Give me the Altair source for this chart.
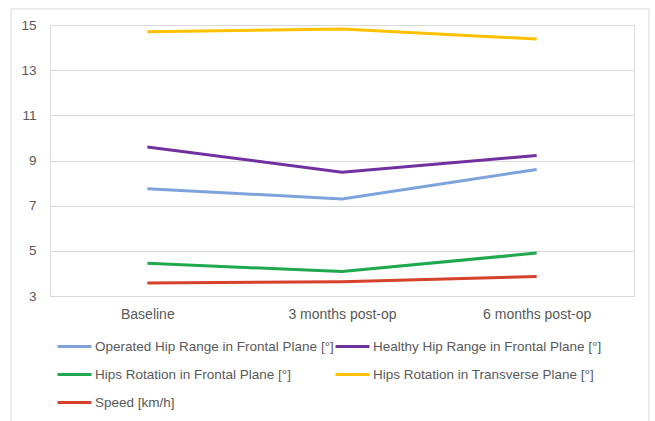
import altair as alt
import pandas as pd

# Gait parameters at three follow-up points
timepoints = ["Baseline", "3 months post-op", "6 months post-op"]
series_names = [
    "Operated Hip Range in Frontal Plane [°]",
    "Healthy Hip Range in Frontal Plane [°]",
    "Hips Rotation in Frontal Plane [°]",
    "Hips Rotation in Transverse Plane [°]",
    "Speed [km/h]",
]
operated_hip = [7.75, 7.3, 8.6]
healthy_hip = [9.6, 8.48, 9.22]
rotation_frontal = [4.45, 4.08, 4.9]
rotation_transverse = [14.7, 14.82, 14.38]
speed = [3.58, 3.63, 3.86]
colors = ["#7DA3DC", "#7030A0", "#1FA84D", "#FFC000", "#D5412A"]

rows = []
for name, vals in zip(series_names, [operated_hip, healthy_hip, rotation_frontal,
                                     rotation_transverse, speed]):
    for t, v in zip(timepoints, vals):
        rows.append({"timepoint": t, "series": name, "value": v})
df = pd.DataFrame(rows)

W, H = 584, 271
FONT = "Liberation Sans"
TEXT = "#595959"

lines = alt.Chart(df).mark_line(strokeWidth=3).encode(
    x=alt.X("timepoint:N", sort=timepoints, title=None,
            scale=alt.Scale(type="point", padding=0.5),
            axis=alt.Axis(labelAngle=0, domain=True, domainColor="#d9d9d9",
                          ticks=False, labelPadding=11, labelFontSize=14,
                          labelColor=TEXT, labelFont=FONT)),
    y=alt.Y("value:Q", title=None,
            scale=alt.Scale(domain=[3, 15], nice=False, zero=False),
            axis=alt.Axis(values=[3, 5, 7, 9, 11, 13, 15], domain=False, ticks=False,
                          gridColor="#d9d9d9", labelPadding=14, labelFontSize=13.5,
                          labelColor=TEXT, labelFont=FONT)),
    color=alt.Color("series:N", sort=series_names,
                    scale=alt.Scale(domain=series_names, range=colors),
                    legend=alt.Legend(title=None, orient="none", legendX=6, legendY=303,
                                      direction="horizontal", columns=2,
                                      columnPadding=-7, rowPadding=3,
                                      symbolType="stroke", symbolSize=1150,
                                      symbolStrokeWidth=3, labelOffset=2,
                                      labelFontSize=13.5, labelColor=TEXT, labelFont=FONT,
                                      labelLimit=400)),
    order=alt.Order("series:N"),
)

# light frame around the whole figure
frame = alt.Chart(pd.DataFrame({"k": [0]})).mark_rect(
    fill=None, stroke="#d9d9d9", strokeWidth=1
).encode(x=alt.value(-39), x2=alt.value(W + 15), y=alt.value(-16), y2=alt.value(H + 140))

chart = alt.layer(frame, lines).properties(
    width=W, height=H,
    autosize=alt.AutoSizeParams(type="none"),
    padding={"left": 50, "top": 25, "right": 21, "bottom": 125},
).configure_view(stroke=None).configure(background="white")

chart.save("out.html", embed_options={"renderer": "svg", "actions": False})
